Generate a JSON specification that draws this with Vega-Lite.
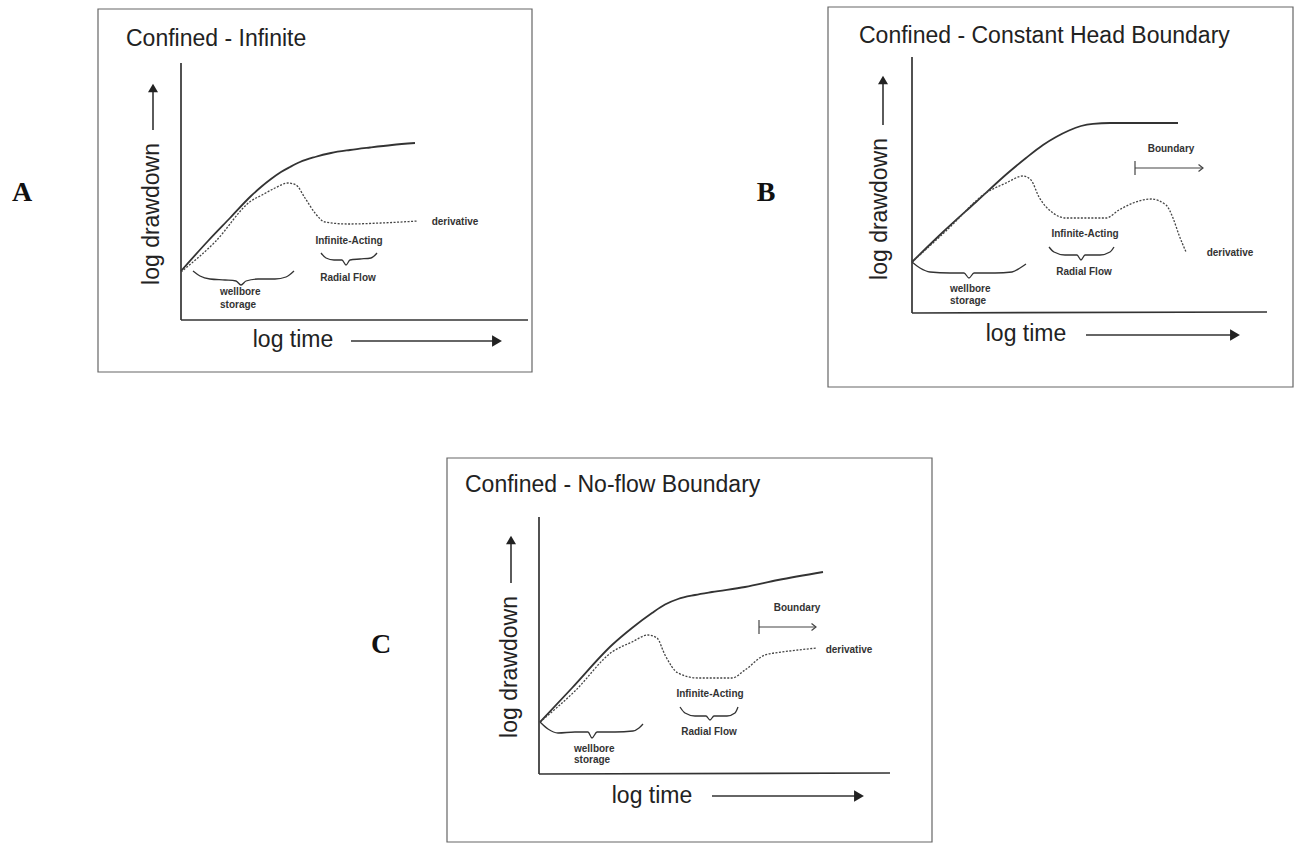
{
  "$schema": "https://vega.github.io/schema/vega-lite/v6.json",
  "width": 1295,
  "height": 843,
  "padding": 0,
  "autosize": {"type": "fit", "contains": "padding"},
  "background": "white",
  "config": {"view": {"stroke": null}},
  "datasets": {
    "boxes": [
      {"panel": "A", "x": 98, "x2": 532, "y": 9, "y2": 372},
      {"panel": "B", "x": 828, "x2": 1293, "y": 7, "y2": 387},
      {"panel": "C", "x": 447, "x2": 932, "y": 458, "y2": 842}
    ],
    "segments": [
      {"panel": "A", "role": "axis", "x": 181, "y": 63, "x2": 181, "y2": 320},
      {"panel": "A", "role": "axis", "x": 181, "y": 320, "x2": 528, "y2": 320},
      {"panel": "B", "role": "axis", "x": 912, "y": 57, "x2": 912, "y2": 313},
      {"panel": "B", "role": "axis", "x": 912, "y": 313, "x2": 1267, "y2": 312},
      {"panel": "C", "role": "axis", "x": 539, "y": 517, "x2": 539, "y2": 774},
      {"panel": "C", "role": "axis", "x": 539, "y": 774, "x2": 890, "y2": 773},
      {"panel": "A", "role": "arrow", "x": 153, "y": 130, "x2": 153, "y2": 88},
      {"panel": "A", "role": "arrow", "x": 351, "y": 341, "x2": 494, "y2": 341},
      {"panel": "B", "role": "arrow", "x": 883, "y": 125, "x2": 883, "y2": 80},
      {"panel": "B", "role": "arrow", "x": 1086, "y": 335, "x2": 1232, "y2": 335},
      {"panel": "C", "role": "arrow", "x": 511, "y": 583, "x2": 511, "y2": 540},
      {"panel": "C", "role": "arrow", "x": 712, "y": 796, "x2": 856, "y2": 796},
      {"panel": "B", "role": "boundary", "x": 1135, "y": 168, "x2": 1203, "y2": 168},
      {"panel": "B", "role": "boundary", "x": 1135, "y": 161, "x2": 1135, "y2": 175},
      {"panel": "C", "role": "boundary", "x": 759, "y": 627, "x2": 816, "y2": 627},
      {"panel": "C", "role": "boundary", "x": 759, "y": 620, "x2": 759, "y2": 634}
    ],
    "heads": [
      {"panel": "A", "dir": "up", "x": 153, "y": 88},
      {"panel": "A", "dir": "right", "x": 497, "y": 341},
      {"panel": "B", "dir": "up", "x": 883, "y": 80},
      {"panel": "B", "dir": "right", "x": 1235, "y": 335},
      {"panel": "C", "dir": "up", "x": 511, "y": 540},
      {"panel": "C", "dir": "right", "x": 859, "y": 796},
      {"panel": "B", "dir": "open", "x": 1203, "y": 168},
      {"panel": "C", "dir": "open", "x": 816, "y": 627}
    ],
    "curves": [
      {"id": "A-s", "series": "drawdown", "t": 1, "x": 181, "y": 271},
      {"id": "A-s", "series": "drawdown", "t": 2, "x": 208, "y": 241},
      {"id": "A-s", "series": "drawdown", "t": 3, "x": 230, "y": 218},
      {"id": "A-s", "series": "drawdown", "t": 4, "x": 251, "y": 196},
      {"id": "A-s", "series": "drawdown", "t": 5, "x": 261, "y": 187},
      {"id": "A-s", "series": "drawdown", "t": 6, "x": 271, "y": 179},
      {"id": "A-s", "series": "drawdown", "t": 7, "x": 281, "y": 172},
      {"id": "A-s", "series": "drawdown", "t": 8, "x": 290, "y": 167},
      {"id": "A-s", "series": "drawdown", "t": 9, "x": 300, "y": 162},
      {"id": "A-s", "series": "drawdown", "t": 10, "x": 315, "y": 157},
      {"id": "A-s", "series": "drawdown", "t": 11, "x": 331, "y": 153},
      {"id": "A-s", "series": "drawdown", "t": 12, "x": 350, "y": 150},
      {"id": "A-s", "series": "drawdown", "t": 13, "x": 370, "y": 147.5},
      {"id": "A-s", "series": "drawdown", "t": 14, "x": 392, "y": 145},
      {"id": "A-s", "series": "drawdown", "t": 15, "x": 415, "y": 143},
      {"id": "A-d", "series": "derivative", "t": 1, "x": 181, "y": 272},
      {"id": "A-d", "series": "derivative", "t": 2, "x": 215, "y": 242},
      {"id": "A-d", "series": "derivative", "t": 3, "x": 251, "y": 201},
      {"id": "A-d", "series": "derivative", "t": 4, "x": 262, "y": 195},
      {"id": "A-d", "series": "derivative", "t": 5, "x": 275, "y": 188},
      {"id": "A-d", "series": "derivative", "t": 6, "x": 288, "y": 183},
      {"id": "A-d", "series": "derivative", "t": 7, "x": 296, "y": 185},
      {"id": "A-d", "series": "derivative", "t": 8, "x": 305, "y": 198},
      {"id": "A-d", "series": "derivative", "t": 9, "x": 315, "y": 213},
      {"id": "A-d", "series": "derivative", "t": 10, "x": 325, "y": 222},
      {"id": "A-d", "series": "derivative", "t": 11, "x": 348, "y": 224},
      {"id": "A-d", "series": "derivative", "t": 12, "x": 381, "y": 223},
      {"id": "A-d", "series": "derivative", "t": 13, "x": 418, "y": 221},
      {"id": "B-s", "series": "drawdown", "t": 1, "x": 912, "y": 262},
      {"id": "B-s", "series": "drawdown", "t": 2, "x": 943, "y": 232},
      {"id": "B-s", "series": "drawdown", "t": 3, "x": 976, "y": 202},
      {"id": "B-s", "series": "drawdown", "t": 4, "x": 1009, "y": 172},
      {"id": "B-s", "series": "drawdown", "t": 5, "x": 1026, "y": 158},
      {"id": "B-s", "series": "drawdown", "t": 6, "x": 1043, "y": 145},
      {"id": "B-s", "series": "drawdown", "t": 7, "x": 1056, "y": 137},
      {"id": "B-s", "series": "drawdown", "t": 8, "x": 1069, "y": 130.5},
      {"id": "B-s", "series": "drawdown", "t": 9, "x": 1081, "y": 126},
      {"id": "B-s", "series": "drawdown", "t": 10, "x": 1093, "y": 123.8},
      {"id": "B-s", "series": "drawdown", "t": 11, "x": 1110, "y": 123},
      {"id": "B-s", "series": "drawdown", "t": 12, "x": 1178, "y": 123},
      {"id": "B-d", "series": "derivative", "t": 1, "x": 912, "y": 262},
      {"id": "B-d", "series": "derivative", "t": 2, "x": 946, "y": 231},
      {"id": "B-d", "series": "derivative", "t": 3, "x": 986, "y": 193},
      {"id": "B-d", "series": "derivative", "t": 4, "x": 1006, "y": 183},
      {"id": "B-d", "series": "derivative", "t": 5, "x": 1023, "y": 176},
      {"id": "B-d", "series": "derivative", "t": 6, "x": 1031, "y": 180},
      {"id": "B-d", "series": "derivative", "t": 7, "x": 1039, "y": 197},
      {"id": "B-d", "series": "derivative", "t": 8, "x": 1053, "y": 213},
      {"id": "B-d", "series": "derivative", "t": 9, "x": 1066, "y": 218},
      {"id": "B-d", "series": "derivative", "t": 10, "x": 1106, "y": 218},
      {"id": "B-d", "series": "derivative", "t": 11, "x": 1119, "y": 210},
      {"id": "B-d", "series": "derivative", "t": 12, "x": 1133, "y": 203},
      {"id": "B-d", "series": "derivative", "t": 13, "x": 1151, "y": 199},
      {"id": "B-d", "series": "derivative", "t": 14, "x": 1166, "y": 205},
      {"id": "B-d", "series": "derivative", "t": 15, "x": 1173, "y": 218},
      {"id": "B-d", "series": "derivative", "t": 16, "x": 1179, "y": 235},
      {"id": "B-d", "series": "derivative", "t": 17, "x": 1186, "y": 252},
      {"id": "C-s", "series": "drawdown", "t": 1, "x": 540, "y": 722},
      {"id": "C-s", "series": "drawdown", "t": 2, "x": 572, "y": 688},
      {"id": "C-s", "series": "drawdown", "t": 3, "x": 612, "y": 645},
      {"id": "C-s", "series": "drawdown", "t": 4, "x": 632, "y": 628},
      {"id": "C-s", "series": "drawdown", "t": 5, "x": 652, "y": 613},
      {"id": "C-s", "series": "drawdown", "t": 6, "x": 665, "y": 604.5},
      {"id": "C-s", "series": "drawdown", "t": 7, "x": 678, "y": 599},
      {"id": "C-s", "series": "drawdown", "t": 8, "x": 695, "y": 595},
      {"id": "C-s", "series": "drawdown", "t": 9, "x": 712, "y": 592},
      {"id": "C-s", "series": "drawdown", "t": 10, "x": 745, "y": 587},
      {"id": "C-s", "series": "drawdown", "t": 11, "x": 778, "y": 580},
      {"id": "C-s", "series": "drawdown", "t": 12, "x": 823, "y": 572},
      {"id": "C-d", "series": "derivative", "t": 1, "x": 540, "y": 722},
      {"id": "C-d", "series": "derivative", "t": 2, "x": 575, "y": 691},
      {"id": "C-d", "series": "derivative", "t": 3, "x": 612, "y": 652},
      {"id": "C-d", "series": "derivative", "t": 4, "x": 632, "y": 642},
      {"id": "C-d", "series": "derivative", "t": 5, "x": 648, "y": 635},
      {"id": "C-d", "series": "derivative", "t": 6, "x": 657, "y": 638},
      {"id": "C-d", "series": "derivative", "t": 7, "x": 665, "y": 655},
      {"id": "C-d", "series": "derivative", "t": 8, "x": 678, "y": 673},
      {"id": "C-d", "series": "derivative", "t": 9, "x": 698, "y": 678},
      {"id": "C-d", "series": "derivative", "t": 10, "x": 732, "y": 678},
      {"id": "C-d", "series": "derivative", "t": 11, "x": 745, "y": 670},
      {"id": "C-d", "series": "derivative", "t": 12, "x": 765, "y": 655},
      {"id": "C-d", "series": "derivative", "t": 13, "x": 782, "y": 652},
      {"id": "C-d", "series": "derivative", "t": 14, "x": 798, "y": 650},
      {"id": "C-d", "series": "derivative", "t": 15, "x": 817, "y": 648}
    ],
    "braces": [
      {"id": "A-w", "t": 1, "x": 193, "y": 271},
      {"id": "A-w", "t": 2, "x": 200, "y": 276},
      {"id": "A-w", "t": 3, "x": 210, "y": 279},
      {"id": "A-w", "t": 4, "x": 225, "y": 280},
      {"id": "A-w", "t": 5, "x": 236, "y": 281},
      {"id": "A-w", "t": 6, "x": 241, "y": 285},
      {"id": "A-w", "t": 7, "x": 246, "y": 281},
      {"id": "A-w", "t": 8, "x": 258, "y": 279},
      {"id": "A-w", "t": 9, "x": 275, "y": 279},
      {"id": "A-w", "t": 10, "x": 286, "y": 277},
      {"id": "A-w", "t": 11, "x": 294, "y": 271},
      {"id": "A-r", "t": 1, "x": 321, "y": 253},
      {"id": "A-r", "t": 2, "x": 326, "y": 258},
      {"id": "A-r", "t": 3, "x": 334, "y": 260},
      {"id": "A-r", "t": 4, "x": 342, "y": 260},
      {"id": "A-r", "t": 5, "x": 346, "y": 265},
      {"id": "A-r", "t": 6, "x": 350, "y": 260},
      {"id": "A-r", "t": 7, "x": 360, "y": 259},
      {"id": "A-r", "t": 8, "x": 371, "y": 258},
      {"id": "A-r", "t": 9, "x": 377, "y": 253},
      {"id": "B-w", "t": 1, "x": 912, "y": 262},
      {"id": "B-w", "t": 2, "x": 920, "y": 268},
      {"id": "B-w", "t": 3, "x": 930, "y": 272},
      {"id": "B-w", "t": 4, "x": 950, "y": 273},
      {"id": "B-w", "t": 5, "x": 964, "y": 273},
      {"id": "B-w", "t": 6, "x": 969, "y": 278},
      {"id": "B-w", "t": 7, "x": 974, "y": 273},
      {"id": "B-w", "t": 8, "x": 995, "y": 273},
      {"id": "B-w", "t": 9, "x": 1012, "y": 272},
      {"id": "B-w", "t": 10, "x": 1020, "y": 268},
      {"id": "B-w", "t": 11, "x": 1026, "y": 264},
      {"id": "B-r", "t": 1, "x": 1049, "y": 247},
      {"id": "B-r", "t": 2, "x": 1054, "y": 252},
      {"id": "B-r", "t": 3, "x": 1065, "y": 255},
      {"id": "B-r", "t": 4, "x": 1077, "y": 255},
      {"id": "B-r", "t": 5, "x": 1081, "y": 260},
      {"id": "B-r", "t": 6, "x": 1085, "y": 255},
      {"id": "B-r", "t": 7, "x": 1100, "y": 255},
      {"id": "B-r", "t": 8, "x": 1110, "y": 252},
      {"id": "B-r", "t": 9, "x": 1114, "y": 247},
      {"id": "C-w", "t": 1, "x": 540, "y": 722},
      {"id": "C-w", "t": 2, "x": 548, "y": 729},
      {"id": "C-w", "t": 3, "x": 558, "y": 733},
      {"id": "C-w", "t": 4, "x": 575, "y": 732},
      {"id": "C-w", "t": 5, "x": 588, "y": 732},
      {"id": "C-w", "t": 6, "x": 592, "y": 738},
      {"id": "C-w", "t": 7, "x": 597, "y": 732},
      {"id": "C-w", "t": 8, "x": 615, "y": 732},
      {"id": "C-w", "t": 9, "x": 633, "y": 731},
      {"id": "C-w", "t": 10, "x": 639, "y": 728},
      {"id": "C-w", "t": 11, "x": 643, "y": 724},
      {"id": "C-r", "t": 1, "x": 680, "y": 707},
      {"id": "C-r", "t": 2, "x": 685, "y": 713},
      {"id": "C-r", "t": 3, "x": 695, "y": 716},
      {"id": "C-r", "t": 4, "x": 706, "y": 716},
      {"id": "C-r", "t": 5, "x": 710, "y": 720},
      {"id": "C-r", "t": 6, "x": 714, "y": 716},
      {"id": "C-r", "t": 7, "x": 727, "y": 716},
      {"id": "C-r", "t": 8, "x": 735, "y": 713},
      {"id": "C-r", "t": 9, "x": 738, "y": 707}
    ],
    "labels": [
      {"role": "title", "text": "Confined - Infinite", "x": 126, "y": 46},
      {"role": "title", "text": "Confined - Constant Head Boundary", "x": 859, "y": 43},
      {"role": "title", "text": "Confined - No-flow Boundary", "x": 465, "y": 492},
      {"role": "xlabel", "text": "log time", "x": 293, "y": 340},
      {"role": "xlabel", "text": "log time", "x": 1026, "y": 334},
      {"role": "xlabel", "text": "log time", "x": 652, "y": 796},
      {"role": "ylabel", "text": "log drawdown", "x": 152, "y": 214},
      {"role": "ylabel", "text": "log drawdown", "x": 880, "y": 209},
      {"role": "ylabel", "text": "log drawdown", "x": 510, "y": 667},
      {"role": "note", "text": "derivative", "x": 455, "y": 222},
      {"role": "note", "text": "Infinite-Acting", "x": 349, "y": 241},
      {"role": "note", "text": "Radial Flow", "x": 348, "y": 278},
      {"role": "noteLeft", "text": "wellbore", "x": 220, "y": 292},
      {"role": "noteLeft", "text": "storage", "x": 220, "y": 305},
      {"role": "note", "text": "derivative", "x": 1230, "y": 253},
      {"role": "note", "text": "Boundary", "x": 1171, "y": 149},
      {"role": "note", "text": "Infinite-Acting", "x": 1085, "y": 234},
      {"role": "note", "text": "Radial Flow", "x": 1084, "y": 272},
      {"role": "noteLeft", "text": "wellbore", "x": 950, "y": 289},
      {"role": "noteLeft", "text": "storage", "x": 950, "y": 301},
      {"role": "note", "text": "derivative", "x": 849, "y": 650},
      {"role": "note", "text": "Boundary", "x": 797, "y": 608},
      {"role": "note", "text": "Infinite-Acting", "x": 710, "y": 694},
      {"role": "note", "text": "Radial Flow", "x": 709, "y": 732},
      {"role": "noteLeft", "text": "wellbore", "x": 574, "y": 749},
      {"role": "noteLeft", "text": "storage", "x": 574, "y": 760},
      {"role": "letter", "text": "A", "x": 22, "y": 193},
      {"role": "letter", "text": "B", "x": 766, "y": 193},
      {"role": "letter", "text": "C", "x": 381, "y": 645}
    ]
  },
  "encoding": {
    "x": {"field": "x", "type": "quantitative", "scale": {"domain": [0, 1295], "nice": false, "zero": false}, "axis": null},
    "y": {"field": "y", "type": "quantitative", "scale": {"domain": [0, 843], "nice": false, "zero": false, "reverse": true}, "axis": null}
  },
  "layer": [
    {
      "data": {"name": "boxes"},
      "mark": {"type": "rect", "fill": "white", "fillOpacity": 0, "stroke": "#666", "strokeWidth": 1.2},
      "encoding": {"x2": {"field": "x2"}, "y2": {"field": "y2"}}
    },
    {
      "data": {"name": "segments"},
      "transform": [{"filter": "datum.role === 'axis'"}],
      "mark": {"type": "rule", "color": "#333", "strokeWidth": 1.7},
      "encoding": {"x2": {"field": "x2"}, "y2": {"field": "y2"}}
    },
    {
      "data": {"name": "segments"},
      "transform": [{"filter": "datum.role === 'arrow'"}],
      "mark": {"type": "rule", "color": "#333", "strokeWidth": 1.6},
      "encoding": {"x2": {"field": "x2"}, "y2": {"field": "y2"}}
    },
    {
      "data": {"name": "segments"},
      "transform": [{"filter": "datum.role === 'boundary'"}],
      "mark": {"type": "rule", "color": "#444", "strokeWidth": 1.2},
      "encoding": {"x2": {"field": "x2"}, "y2": {"field": "y2"}}
    },
    {
      "data": {"name": "heads"},
      "transform": [{"filter": "datum.dir === 'right'"}],
      "mark": {"type": "point", "shape": "triangle-right", "filled": true, "color": "#222", "size": 130, "opacity": 1},
      "encoding": {}
    },
    {
      "data": {"name": "heads"},
      "transform": [{"filter": "datum.dir === 'up'"}],
      "mark": {"type": "point", "shape": "triangle-up", "filled": true, "color": "#222", "size": 100, "opacity": 1},
      "encoding": {}
    },
    {
      "data": {"name": "heads"},
      "transform": [{"filter": "datum.dir === 'open'"}],
      "mark": {"type": "point", "shape": "M-1,-0.8L0,0L-1,0.8", "filled": false, "color": "#444", "strokeWidth": 1.2, "size": 80, "opacity": 1},
      "encoding": {}
    },
    {
      "data": {"name": "curves"},
      "transform": [{"filter": "datum.series === 'drawdown'"}],
      "mark": {"type": "line", "color": "#333", "strokeWidth": 1.8, "interpolate": "monotone"},
      "encoding": {"detail": {"field": "id"}, "order": {"field": "t"}}
    },
    {
      "data": {"name": "curves"},
      "transform": [{"filter": "datum.series === 'derivative'"}],
      "mark": {"type": "line", "color": "#444", "strokeWidth": 1.3, "strokeDash": [2, 1.5], "interpolate": "monotone"},
      "encoding": {"detail": {"field": "id"}, "order": {"field": "t"}}
    },
    {
      "data": {"name": "braces"},
      "mark": {"type": "line", "color": "#333", "strokeWidth": 1.3, "interpolate": "monotone"},
      "encoding": {"detail": {"field": "id"}, "order": {"field": "t"}}
    },
    {
      "data": {"name": "labels"},
      "transform": [{"filter": "datum.role === 'title'"}],
      "mark": {"type": "text", "font": "Liberation Sans", "fontSize": 23, "align": "left", "baseline": "alphabetic", "color": "#222"},
      "encoding": {"text": {"field": "text"}}
    },
    {
      "data": {"name": "labels"},
      "transform": [{"filter": "datum.role === 'xlabel'"}],
      "mark": {"type": "text", "font": "Liberation Sans", "fontSize": 23, "align": "center", "baseline": "middle", "color": "#222"},
      "encoding": {"text": {"field": "text"}}
    },
    {
      "data": {"name": "labels"},
      "transform": [{"filter": "datum.role === 'ylabel'"}],
      "mark": {"type": "text", "font": "Liberation Sans", "fontSize": 23, "align": "center", "baseline": "middle", "angle": 270, "color": "#222"},
      "encoding": {"text": {"field": "text"}}
    },
    {
      "data": {"name": "labels"},
      "transform": [{"filter": "datum.role === 'note'"}],
      "mark": {"type": "text", "font": "Liberation Sans", "fontSize": 10, "fontWeight": "bold", "align": "center", "baseline": "middle", "color": "#333"},
      "encoding": {"text": {"field": "text"}}
    },
    {
      "data": {"name": "labels"},
      "transform": [{"filter": "datum.role === 'noteLeft'"}],
      "mark": {"type": "text", "font": "Liberation Sans", "fontSize": 10, "fontWeight": "bold", "align": "left", "baseline": "middle", "color": "#333"},
      "encoding": {"text": {"field": "text"}}
    },
    {
      "data": {"name": "labels"},
      "transform": [{"filter": "datum.role === 'letter'"}],
      "mark": {"type": "text", "font": "Liberation Serif", "fontSize": 28, "fontWeight": "bold", "align": "center", "baseline": "middle", "color": "#111"},
      "encoding": {"text": {"field": "text"}}
    }
  ]
}
